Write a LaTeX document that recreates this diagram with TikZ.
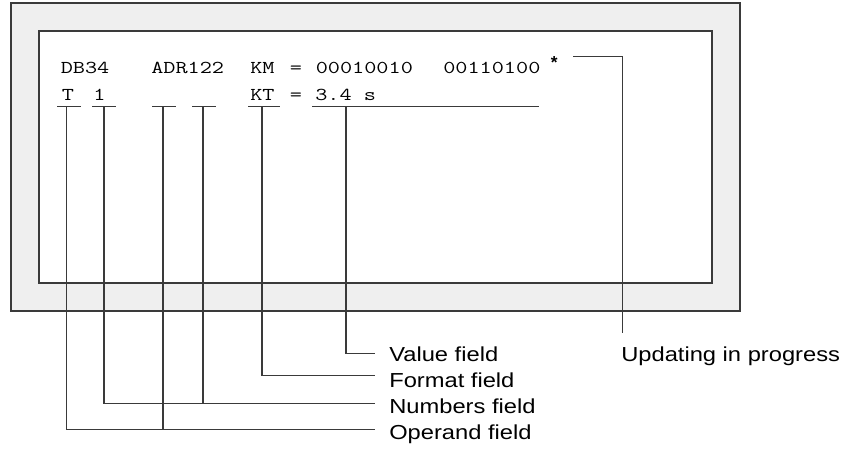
\documentclass[tikz,border=0pt]{standalone}
\usepackage{fontspec}
\setmainfont{Liberation Sans}
\definecolor{framefill}{HTML}{EFEFEF}
\definecolor{linec}{HTML}{3A3A3A}
\newcommand{\sx}[1]{\scalebox{1.17}[1]{#1}}
\newcommand{\mx}[1]{\scalebox{1.3}[1]{#1}}
\begin{document}
\begin{tikzpicture}[x=0.75pt,y=-0.75pt,
  mono/.style={font=\ttfamily\fontsize{13.6pt}{15pt}\selectfont, inner sep=0pt, anchor=base west, text=black},
  lbl/.style={font=\fontsize{15.2pt}{17pt}\selectfont, inner sep=0pt, anchor=base west, text=black},
  ln/.style={draw=linec, line width=0.9pt},
  conn/.style={draw=linec, line width=0.9pt}]
\useasboundingbox (0,0) rectangle (847,455);
% frame
\draw[ln, fill=framefill] (11,3) rectangle (740,311);
\draw[ln, fill=white] (39,31) rectangle (712,283);
% row 1
\node[mono] (db) at (60.5,73.5) {\mx{DB34}};
\node[mono] (adr) at (151,73.5) {\mx{ADR122}};
\node[mono] (km) at (250,73.5) {\mx{KM}};
\node[mono] (eq1) at (289.5,73.5) {\mx{=}};
\node[mono] (b1) at (315.5,73.5) {\mx{00010010}};
\node[mono] (b2) at (443,73.5) {\mx{00110100}};
\node[font=\bfseries\fontsize{13pt}{13pt}\selectfont, inner sep=0pt, anchor=base west] (star) at (550.5,68.5) {*};
% row 2
\node[mono] (t) at (61.5,100) {\mx{T}};
\node[mono] (one) at (93,100) {\mx{1}};
\node[mono] (kt) at (250,100) {\mx{KT}};
\node[mono] (eq2) at (289.5,100) {\mx{=}};
\node[mono] (val) at (315,100) {\mx{3.4 s}};
% underlines
\coordinate (uTa) at (57,106.5);  \coordinate (uTb) at (81,106.5);
\coordinate (u1a) at (92,106.5);  \coordinate (u1b) at (116,106.5);
\coordinate (uBa) at (152,106.5); \coordinate (uBb) at (176,106.5);
\coordinate (uCa) at (192,106.5); \coordinate (uCb) at (216,106.5);
\coordinate (uKa) at (248,106.5); \coordinate (uKb) at (280,106.5);
\coordinate (uVa) at (312,106.5); \coordinate (uVb) at (539,106.5);
\foreach \u in {T,1,B,C,K,V} \draw[ln] (u\u a) -- (u\u b);
% tap points
\coordinate (pT) at (66.7,106.5);
\coordinate (p1) at (104,106.5);
\coordinate (pB) at (163,106.5);
\coordinate (pC) at (203,106.5);
\coordinate (pK) at (262,106.5);
\coordinate (pV) at (346,106.5);
% labels
\node[lbl] (lv) at (389,361) {\sx{Value field}};
\node[lbl] (lf) at (389,387) {\sx{Format field}};
\node[lbl] (ln) at (389,413) {\sx{Numbers field}};
\node[lbl] (lo) at (389,439) {\sx{Operand field}};
\node[lbl] (lu) at (621,361) {\sx{Updating in progress}};
% line ends
\coordinate (eV) at (374.5,353.3);
\coordinate (eF) at (374.5,375.7);
\coordinate (eN) at (374.5,403.3);
\coordinate (eO) at (374.5,429.3);
\coordinate (sU) at (573.3,56.7);
\coordinate (eU) at (622.7,332.7);
% connectors
\draw[conn] (pV) |- (eV);
\draw[conn] (pK) |- (eF);
\draw[conn] (p1) |- (eN);
\draw[conn] (pC) -- (pC |- eN);
\draw[conn] (pT) |- (eO);
\draw[conn] (pB) -- (pB |- eO);
\draw[conn] (sU) -| (eU);
\end{tikzpicture}
\end{document}
